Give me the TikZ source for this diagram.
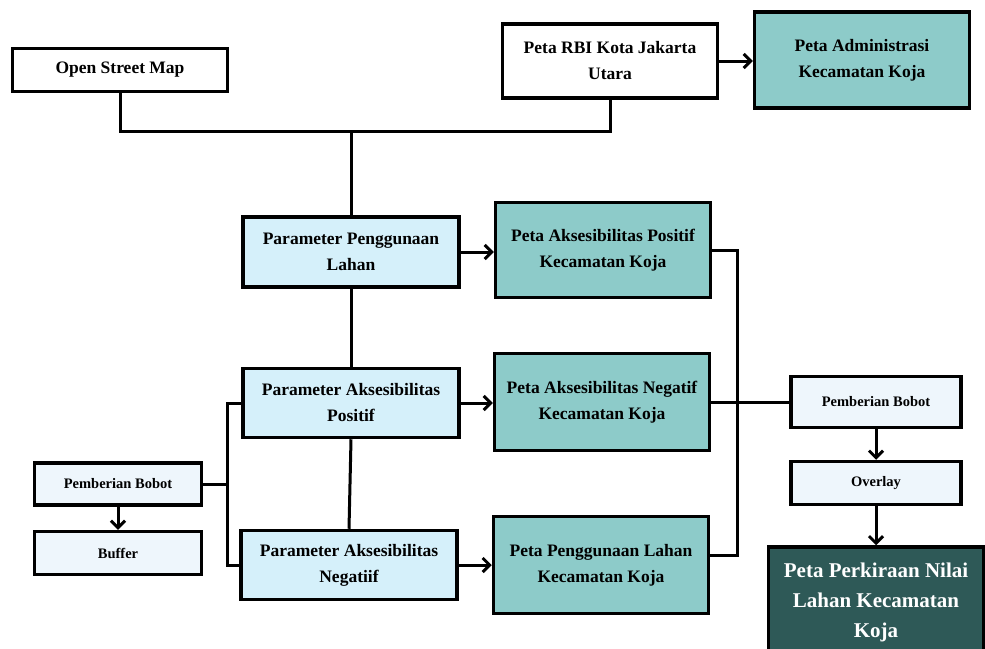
\documentclass[tikz,border=0pt]{standalone}
\usepackage{fontspec}
\setmainfont{Liberation Serif}
\usetikzlibrary{arrows.meta}
\begin{document}
\begin{tikzpicture}[x=1pt,y=-1pt, line join=miter, >={Straight Barb[length=7pt,width=14pt,line width=3pt]},
	box/.style={draw, line width=3.5pt, align=center, inner sep=0pt, font=\bfseries\fontsize{17.5}{26}\selectfont},
	smallbox/.style={box, fill=pale, font=\bfseries\fontsize{14.5}{20}\selectfont},
	link/.style={line width=3pt}]
	\definecolor{teal}{HTML}{8DCBC9}
	\definecolor{sky}{HTML}{D5F0FA}
	\definecolor{pale}{HTML}{EEF6FC}
	\definecolor{deep}{HTML}{2E5957}
	\useasboundingbox (0,0) rectangle (985,648);
	% sumber data
	\node[box, fill=white, minimum width=215pt, minimum height=43pt] (osm) at (120,70) {Open Street Map};
	\node[box, fill=white, minimum width=215pt, minimum height=74pt] (rbi) at (610,61) {Peta RBI Kota Jakarta\\Utara};
	\node[box, fill=teal, minimum width=215pt, minimum height=96pt] (adm) at (862,60) {Peta Administrasi\\Kecamatan Koja};
	% parameter
	\node[box, fill=sky, minimum width=216pt, minimum height=70pt] (ppl) at (351,252) {Parameter Penggunaan\\Lahan};
	\node[box, fill=sky, minimum width=216pt, minimum height=69pt] (pap) at (351,403) {Parameter Aksesibilitas\\Positif};
	\node[box, fill=sky, minimum width=216pt, minimum height=69pt] (pan) at (349,565) {Parameter Aksesibilitas\\Negatiif};
	\node[smallbox, minimum width=167pt, minimum height=42pt] (bobotL) at (118,484) {Pemberian Bobot};
	\node[smallbox, minimum width=167pt, minimum height=43pt] (buffer) at (118,553) {Buffer};
	% peta hasil
	\node[box, fill=teal, minimum width=215pt, minimum height=95pt] (mapp) at (603,250) {Peta Aksesibilitas Positif\\Kecamatan Koja};
	\node[box, fill=teal, minimum width=215pt, minimum height=97pt] (mapn) at (602,402) {Peta Aksesibilitas Negatif\\Kecamatan Koja};
	\node[box, fill=teal, minimum width=215pt, minimum height=97pt] (mapl) at (601,565) {Peta Penggunaan Lahan\\Kecamatan Koja};
	\node[smallbox, minimum width=170pt, minimum height=51pt] (bobotR) at (876,402) {Pemberian Bobot};
	\node[smallbox, minimum width=170pt, minimum height=43pt] (overlay) at (876,483) {Overlay};
	\node[box, fill=deep, text=white, minimum width=215pt, minimum height=110pt, font=\bfseries\fontsize{21}{30}\selectfont] (final) at (876,602) {Peta Perkiraan Nilai\\Lahan Kecamatan\\Koja};
	% garis
	\coordinate (join) at (351,131);
	\coordinate (lbus) at (227,484);
	\coordinate (rbus) at (737,402);
	\draw[link] (osm.south) |- (join) -| (rbi.south);
	\draw[link] (join) -- (ppl.north);
	\draw[link,->] (rbi.east) -- (rbi.east -| adm.west);
	\draw[link] (ppl.south) -- (pap.north);
	\draw[link] (pap.south) -- (pan.north);
	\draw[link] (bobotL.east) -- (lbus);
	\draw[link] (pap.west) -| (lbus) |- (pan.west);
	\draw[link,->] (bobotL.south) -- (buffer.north);
	\draw[link,->] (ppl.east) -- (ppl.east -| mapp.west);
	\draw[link,->] (pap.east) -- (pap.east -| mapn.west);
	\draw[link,->] (pan.east) -- (pan.east -| mapl.west);
	\draw[link] (mapp.east) -| (rbus) |- (mapl.5);
	\draw[link] (mapn.east) -- (bobotR.west);
	\draw[link,->] (bobotR.south) -- (overlay.north);
	\draw[link,->] (overlay.south) -- (final.north);
\end{tikzpicture}
\end{document}
